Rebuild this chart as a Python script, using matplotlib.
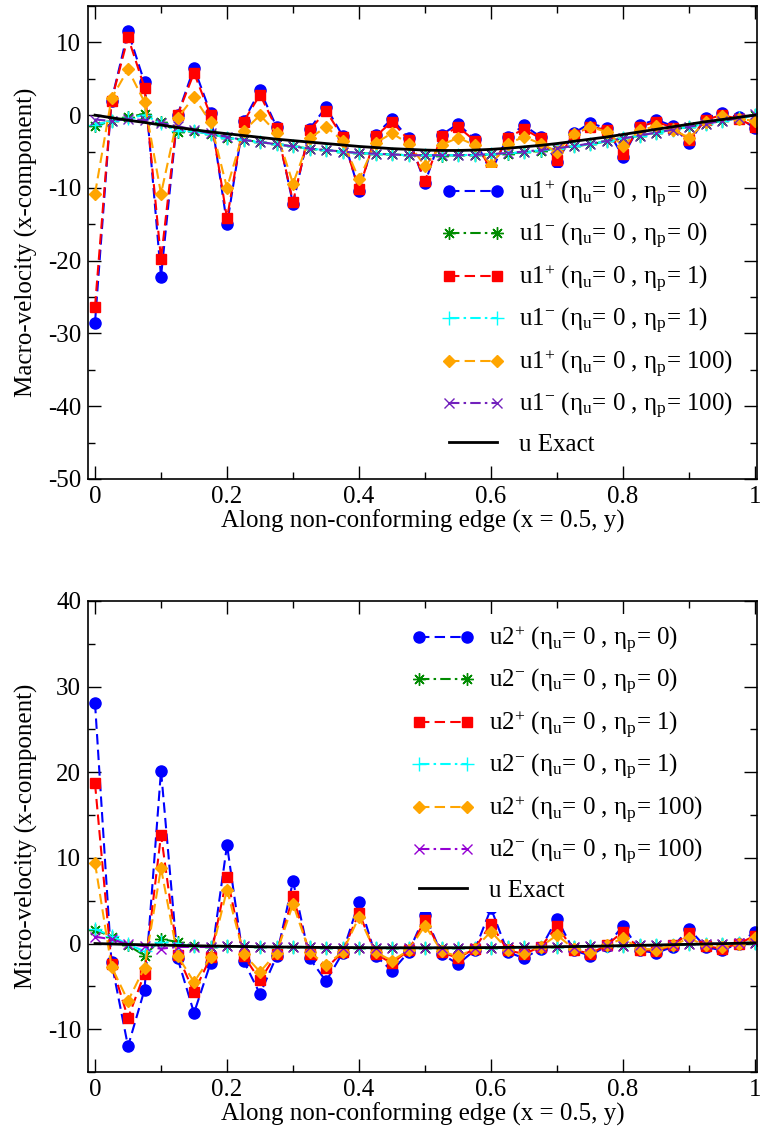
import numpy as np
import matplotlib
matplotlib.use("Agg")
import matplotlib.pyplot as plt
from matplotlib.ticker import MultipleLocator

plt.rcParams['font.family'] = ['Liberation Serif', 'DejaVu Serif']
plt.rcParams['axes.unicode_minus'] = False
plt.rcParams['font.size'] = 18

# sample points along the edge
y_edge = np.linspace(0.0, 1.0, 41)

# --- macro velocity (top panel) ---
u1p_eta0 = [-28.5, 2.0, 11.5, 4.5, -22.2, 0.0, 6.5, 0.3, -15.0, -0.8,
            3.4, -1.6, -12.2, -1.9, 1.1, -2.8, -10.4, -2.7, -0.5, -3.2,
            -9.3, -2.7, -1.2, -3.3, -7.8, -3.0, -1.4, -3.0, -6.4, -2.5,
            -1.1, -1.8, -5.7, -1.4, -0.6, -1.5, -3.8, -0.4, 0.3, -0.3, -1.8]
u1m_eta0 = [-1.5, -0.8, -0.3, 0.2, -1.0, -2.3, -2.2, -2.6, -3.1, -3.4,
            -3.7, -4.0, -4.3, -4.6, -4.8, -5.0, -5.2, -5.3, -5.4, -5.5,
            -5.5, -5.55, -5.5, -5.5, -5.4, -5.3, -5.1, -4.9, -4.6, -4.3,
            -4.0, -3.6, -3.2, -2.8, -2.4, -2.0, -1.6, -1.2, -0.8, -0.4, 0.0]
u1p_eta1 = [-26.3, 2.0, 10.7, 3.8, -19.8, 0.0, 5.8, 0.0, -14.2, -0.9,
            2.8, -1.8, -11.9, -2.1, 0.6, -3.0, -10.2, -2.9, -0.9, -3.4,
            -9.0, -2.9, -1.6, -3.5, -7.5, -3.1, -1.9, -3.2, -6.1, -2.7,
            -1.6, -2.0, -5.3, -1.6, -0.9, -1.7, -3.4, -0.6, 0.0, -0.5, -1.6]
u1m_eta1 = [-1.3, -0.8, -0.4, 0.0, -1.1, -2.2, -2.2, -2.6, -3.1, -3.4,
            -3.7, -4.0, -4.3, -4.6, -4.8, -5.0, -5.2, -5.3, -5.4, -5.5,
            -5.5, -5.5, -5.5, -5.45, -5.4, -5.25, -5.05, -4.85, -4.6, -4.3,
            -3.95, -3.6, -3.2, -2.8, -2.4, -2.0, -1.6, -1.2, -0.8, -0.4, 0.0]
u1p_eta100 = [-10.8, 2.3, 6.3, 1.8, -10.8, -0.4, 2.5, -1.0, -10.0, -2.2,
              0.0, -2.4, -9.4, -3.2, -1.6, -3.5, -8.8, -3.8, -2.5, -3.9,
              -7.0, -4.1, -3.1, -4.1, -6.8, -3.9, -3.0, -3.9, -5.0, -2.6,
              -1.6, -2.3, -4.2, -2.1, -1.5, -2.0, -3.1, -1.0, -0.1, -0.5, -0.8]
u1m_eta100 = [-0.6, -0.8, -0.5, -0.7, -1.1, -1.5, -2.0, -2.5, -3.0, -3.4,
              -3.7, -4.0, -4.3, -4.6, -4.8, -5.0, -5.2, -5.3, -5.4, -5.5,
              -5.5, -5.5, -5.5, -5.45, -5.35, -5.2, -5.0, -4.8, -4.55, -4.25,
              -3.9, -3.55, -3.2, -2.8, -2.4, -2.0, -1.6, -1.2, -0.8, -0.4, 0.1]
u1_exact = [0.0, -0.35, -0.7, -1.0, -1.35, -1.7, -2.0, -2.3, -2.55, -2.8,
            -3.05, -3.3, -3.5, -3.7, -3.9, -4.1, -4.3, -4.45, -4.6, -4.7,
            -4.8, -4.85, -4.85, -4.8, -4.7, -4.55, -4.35, -4.15, -3.9, -3.6,
            -3.3, -3.0, -2.65, -2.3, -1.95, -1.6, -1.25, -0.9, -0.6, -0.3, 0.0]

# --- micro velocity (bottom panel) ---
u2p_eta0 = [28.1, -2.2, -12.0, -5.4, 20.2, -1.7, -8.1, -2.3, 11.5, -2.0,
            -5.9, -1.5, 7.3, -1.7, -4.4, -1.1, 4.9, -1.4, -3.2, -1.0,
            3.3, -1.2, -2.4, -0.8, 4.1, -1.0, -1.7, -0.6, 2.9, -0.8,
            -1.4, -0.3, 2.1, -0.8, -1.1, -0.4, 1.7, -0.4, -0.8, 0.0, 1.4]
u2m_eta0 = [1.6, 0.8, -0.2, -1.4, 0.5, 0.2, -0.3, -0.4, -0.3, -0.3,
            -0.4, -0.4, -0.4, -0.4, -0.5, -0.5, -0.5, -0.5, -0.5, -0.5,
            -0.5, -0.5, -0.5, -0.5, -0.5, -0.45, -0.45, -0.4, -0.4, -0.35,
            -0.3, -0.3, -0.25, -0.2, -0.2, -0.15, -0.1, -0.05, 0.0, 0.05, 0.1]
u2p_eta1 = [18.7, -2.4, -8.7, -3.5, 12.7, -1.3, -5.7, -1.6, 7.8, -1.4,
            -4.3, -1.2, 5.5, -1.2, -2.9, -1.0, 3.6, -1.2, -2.3, -0.8,
            2.7, -1.0, -1.7, -0.6, 2.3, -0.8, -1.2, -0.4, 2.0, -0.7,
            -1.2, -0.2, 1.4, -0.7, -0.9, -0.2, 1.2, -0.3, -0.6, 0.0, 0.9]
u2m_eta1 = [1.7, 0.9, -0.1, -0.9, 0.2, 0.0, -0.3, -0.4, -0.3, -0.3,
            -0.4, -0.4, -0.4, -0.4, -0.5, -0.5, -0.5, -0.5, -0.5, -0.5,
            -0.5, -0.5, -0.5, -0.5, -0.5, -0.45, -0.45, -0.4, -0.4, -0.35,
            -0.3, -0.3, -0.25, -0.2, -0.2, -0.15, -0.1, -0.05, 0.0, 0.05, 0.1]
u2p_eta100 = [9.4, -2.7, -6.7, -2.8, 8.8, -1.4, -4.5, -1.6, 6.3, -1.2,
              -3.3, -1.1, 4.6, -1.0, -2.5, -1.0, 3.1, -1.0, -2.0, -0.8,
              2.1, -0.9, -1.5, -0.6, 1.4, -0.7, -1.1, -0.4, 1.0, -0.6,
              -1.0, -0.2, 0.6, -0.6, -0.7, -0.2, 0.6, -0.2, -0.4, 0.0, 0.6]
u2m_eta100 = [0.8, 0.5, -0.1, -0.3, -0.6, -0.4, -0.4, -0.4, -0.3, -0.3,
              -0.4, -0.4, -0.4, -0.4, -0.5, -0.5, -0.5, -0.5, -0.5, -0.5,
              -0.5, -0.5, -0.5, -0.5, -0.5, -0.45, -0.45, -0.4, -0.4, -0.35,
              -0.3, -0.3, -0.25, -0.2, -0.2, -0.15, -0.1, -0.05, 0.0, 0.05, 0.1]
u2_exact = [0.0, -0.05, -0.1, -0.14, -0.18, -0.22, -0.26, -0.29, -0.32, -0.35,
            -0.38, -0.4, -0.42, -0.44, -0.46, -0.47, -0.48, -0.49, -0.5, -0.5,
            -0.5, -0.5, -0.49, -0.48, -0.47, -0.45, -0.43, -0.41, -0.38, -0.35,
            -0.32, -0.29, -0.25, -0.21, -0.17, -0.13, -0.09, -0.05, -0.01, 0.03, 0.07]

eta_p = ['0', '0', '1', '1', '100', '100']

dash = (0, (5, 2.5))
dashdot = (0, (5, 2, 1.2, 2))
# colour, marker, size, linestyle for each plotted series
styles = [
    ('#0000ff', 'o', 8.0, dash),
    ('#008b00', (8, 2, 0), 9.0, dashdot),
    ('#ff0000', 's', 7.0, dash),
    ('#00ffff', '+', 10.0, dashdot),
    ('#ffa500', 'D', 6.0, dash),
    (None, 'x', 7.0, dashdot),
]


def make_label(name, sign, eta):
    return (name + r'$\mathregular{^{' + sign + r'}}$ ($\mathregular{\eta_{u}}$= 0 , '
            r'$\mathregular{\eta_{p}}$= ' + eta + ')')


def draw_panel(ax, name, series, exact, purple, ylim, ylabel, legend_anchor):
    signs = ['+', '-', '+', '-', '+', '-']
    for k, (vals, st) in enumerate(zip(series, styles)):
        color, marker, ms, ls = st
        if color is None:
            color = purple
        ax.plot(y_edge, vals, color=color, marker=marker, ms=ms, ls=ls, lw=1.5,
                mew=1.0, label=make_label(name, signs[k], eta_p[k]))
    ax.plot(y_edge, exact, color='black', lw=2.0, label='u Exact')

    ax.set_xlim(-0.0106, 1.003)
    ax.set_ylim(*ylim)
    ax.xaxis.set_major_locator(MultipleLocator(0.2))
    ax.xaxis.set_minor_locator(MultipleLocator(0.1))
    ax.yaxis.set_major_locator(MultipleLocator(10))
    ax.yaxis.set_minor_locator(MultipleLocator(5))
    ax.set_xticks([0, 0.2, 0.4, 0.6, 0.8, 1.0])
    ax.set_xticklabels(['0', '0.2', '0.4', '0.6', '0.8', '1'])
    ax.tick_params(which='both', direction='in', top=True, right=True, width=1.0)
    ax.tick_params(which='major', length=9.5, pad=5)
    ax.tick_params(which='minor', length=5)
    for sp in ax.spines.values():
        sp.set_linewidth(1.2)
    ax.set_xlabel('Along non-conforming edge (x = 0.5, y)', labelpad=1)
    ax.set_ylabel(ylabel, labelpad=7)

    leg = ax.legend(loc='upper left', bbox_to_anchor=legend_anchor, numpoints=2,
                    handlelength=2.5, handletextpad=0.6, labelspacing=0.48,
                    borderpad=0.4, borderaxespad=0, frameon=True, fancybox=False,
                    framealpha=1.0, facecolor='white', edgecolor='none', fontsize=18)
    return leg


fig = plt.figure(figsize=(7.62, 11.35), dpi=100)
ax1 = fig.add_axes([0.1155, 0.578, 0.878, 0.4167])
ax2 = fig.add_axes([0.1155, 0.0555, 0.878, 0.415])

draw_panel(ax1, 'u1', [u1p_eta0, u1m_eta0, u1p_eta1, u1m_eta1, u1p_eta100, u1m_eta100],
           u1_exact, '#7221bc', (-50, 15), 'Macro-velocity (x-component)', (0.514, 0.6575))
draw_panel(ax2, 'u2', [u2p_eta0, u2m_eta0, u2p_eta1, u2m_eta1, u2p_eta100, u2m_eta100],
           u2_exact, '#9400d3', (-15, 40), 'Micro-velocity (x-component)', (0.469, 0.972))

fig.savefig('out.png', dpi=100)
